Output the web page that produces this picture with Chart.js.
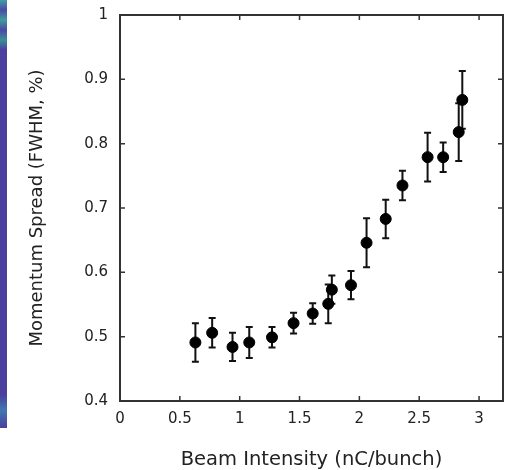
<!DOCTYPE html>
<html>
<head>
<meta charset="utf-8">
<script src="https://cdn.jsdelivr.net/npm/chart.js@4"></script>
<style>
  html, body { margin: 0; padding: 0; background: #fff; }
  #wrap { position: relative; width: 507px; height: 470px; }
  #strip {
    position: absolute; left: 0; top: 0; width: 7px; height: 428px;
    background: linear-gradient(#3fa0a0 0px, #4a4aa8 10px, #3f9c9a 20px, #4c47a6 30px, #3a8f96 40px, #4a3f9e 50px, #4a3f9e 395px, #3f78b0 410px, #4a3f9e 428px);
  }
  canvas { position: absolute; left: 0; top: 0; }
</style>
</head>
<body>
<div id="wrap">
  <div id="strip"></div>
  <canvas id="chart" width="507" height="470"></canvas>
</div>
<script>
const ctx = document.getElementById('chart');

// beam intensity (nC/bunch), momentum spread (FWHM %) and its error
const intensity = [0.63, 0.77, 0.94, 1.08, 1.27, 1.45, 1.61, 1.74, 1.77, 1.93, 2.06, 2.22, 2.36, 2.57, 2.70, 2.83, 2.86];
const spread    = [0.491, 0.506, 0.484, 0.491, 0.499, 0.521, 0.536, 0.551, 0.573, 0.580, 0.646, 0.683, 0.735, 0.779, 0.779, 0.818, 0.868];
const spreadErr = [0.030, 0.023, 0.022, 0.024, 0.016, 0.016, 0.016, 0.030, 0.022, 0.022, 0.038, 0.030, 0.023, 0.038, 0.023, 0.045, 0.045];

const xTicks = [0, 0.5, 1, 1.5, 2, 2.5, 3];
const yTicks = [0.4, 0.5, 0.6, 0.7, 0.8, 0.9, 1];

const ink = '#222';
const fmt = v => String(Math.round(v * 10) / 10);

// error bars drawn through the scales
const errorBars = {
    id: 'errorBars',
    beforeDatasetsDraw(chart) {
        const c = chart.ctx
        const xs = chart.scales.x, ys = chart.scales.y
        c.save()
        c.strokeStyle = '#111'
        c.lineWidth = 2
        intensity.forEach((v, i) => {
            const px = xs.getPixelForValue(v)
            const top = ys.getPixelForValue(spread[i] + spreadErr[i])
            const bot = ys.getPixelForValue(spread[i] - spreadErr[i])
            c.beginPath()
            c.moveTo(px, top); c.lineTo(px, bot)
            c.moveTo(px - 3.5, top); c.lineTo(px + 3.5, top)
            c.moveTo(px - 3.5, bot); c.lineTo(px + 3.5, bot)
            c.stroke()
        })
        c.restore()
    }
}

// frame with inward ticks on all four sides
const frame = {
    id: 'frame',
    afterDraw(chart) {
        const c = chart.ctx
        const a = chart.chartArea
        const xs = chart.scales.x, ys = chart.scales.y
        c.save()
        c.strokeStyle = '#333'
        c.lineWidth = 1.5
        c.beginPath()
        xTicks.forEach(v => {
            const px = xs.getPixelForValue(v)
            c.moveTo(px, a.bottom); c.lineTo(px, a.bottom - 5)
            c.moveTo(px, a.top); c.lineTo(px, a.top + 5)
        })
        yTicks.forEach(v => {
            const py = ys.getPixelForValue(v)
            c.moveTo(a.left, py); c.lineTo(a.left + 5, py)
            c.moveTo(a.right, py); c.lineTo(a.right - 5, py)
        })
        c.stroke()
        c.lineWidth = 2
        c.strokeRect(a.left, a.top, a.right - a.left, a.bottom - a.top)
        c.restore()
    }
}

new Chart(ctx, {
    type: 'scatter',
    data: {
        datasets: [{
            data: intensity.map((v, i) => ({x: v, y: spread[i]})),
            backgroundColor: '#000',
            borderColor: '#000',
            pointRadius: 5.5,
            pointHoverRadius: 5.5
        }]
    },
    options: {
        responsive: false,
        animation: false,
        layout: { autoPadding: false, padding: { left: 25, top: 15, right: 4, bottom: 0 } },
        plugins: { legend: { display: false }, tooltip: { enabled: false } },
        scales: {
            x: {
                type: 'linear',
                min: 0, max: 3.2,
                afterBuildTicks: s => { s.ticks = xTicks.map(v => ({value: v})) },
                afterFit: s => { s.height = 69; s.paddingLeft = 0; s.paddingRight = 0 },
                grid: { display: false, drawTicks: false },
                border: { display: false },
                ticks: { padding: 9, color: ink, font: { family: 'DejaVu Sans', size: 15 }, callback: fmt },
                title: {
                    display: true,
                    text: 'Beam Intensity (nC/bunch)',
                    color: ink,
                    font: { family: 'DejaVu Sans', size: 19.5 },
                    padding: { top: 0, bottom: -2 }
                }
            },
            y: {
                min: 0.4, max: 1,
                afterBuildTicks: s => { s.ticks = yTicks.map(v => ({value: v})) },
                afterFit: s => { s.width = 95; s.paddingTop = 0; s.paddingBottom = 0 },
                grid: { display: false, drawTicks: false },
                border: { display: false },
                ticks: { padding: 12, color: ink, font: { family: 'DejaVu Sans', size: 15 }, callback: fmt },
                title: {
                    display: true,
                    text: 'Momentum Spread (FWHM, %)',
                    color: ink,
                    font: { family: 'DejaVu Sans', size: 18 },
                    padding: { top: 2, bottom: 0 }
                }
            }
        }
    },
    plugins: [errorBars, frame]
});
</script>
</body>
</html>
